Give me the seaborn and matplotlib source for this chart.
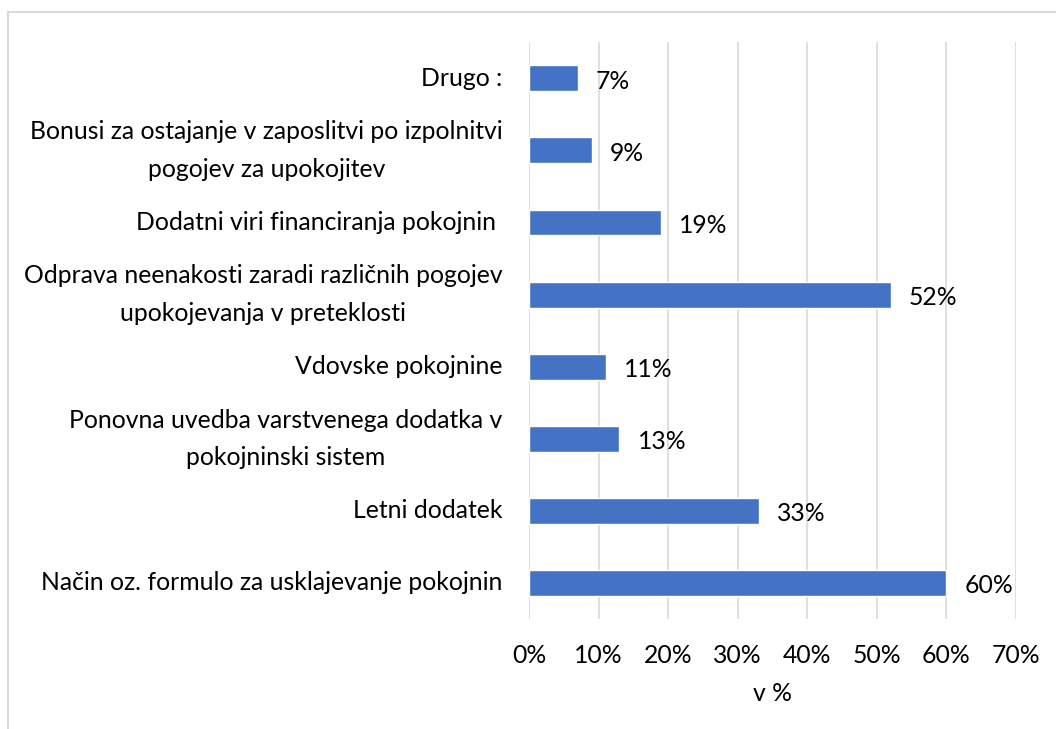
import matplotlib
matplotlib.use("Agg")
import matplotlib.pyplot as plt
import seaborn as sns
import pandas as pd
from matplotlib.ticker import PercentFormatter

# categories top to bottom, as they appear in the chart
categories = [
    "Drugo :",
    "Bonusi za ostajanje v zaposlitvi po izpolnitvi\npogojev za upokojitev",
    "Dodatni viri financiranja pokojnin ",
    "Odprava neenakosti zaradi različnih pogojev\nupokojevanja v preteklosti",
    "Vdovske pokojnine",
    "Ponovna uvedba varstvenega dodatka v\npokojninski sistem",
    "Letni dodatek",
    "Način oz. formulo za usklajevanje pokojnin",
]
shares = [0.07, 0.09, 0.19, 0.52, 0.11, 0.13, 0.33, 0.60]
x_ticks = [0, 0.1, 0.2, 0.3, 0.4, 0.5, 0.6, 0.7]

df = pd.DataFrame({"kategorija": categories, "delez": shares})

sns.set_style("white")
plt.rcParams["font.family"] = ["Lato", "DejaVu Sans"]
fs = 17.8

fig = plt.figure(figsize=(10.56, 7.29), dpi=100)
ax = fig.add_axes([0.501, 0.151, 0.461, 0.791])

sns.barplot(data=df, x="delez", y="kategorija", orient="h", color="#4472C4",
            saturation=1, width=0.36, ax=ax)

ax.set_xlim(0, 0.7)
ax.set_xticks(x_ticks)
ax.xaxis.set_major_formatter(PercentFormatter(1.0, decimals=0))
ax.grid(axis="x", color="#d9d9d9", linewidth=1.2)
ax.set_axisbelow(True)
for s in ax.spines.values():
    s.set_visible(False)
ax.tick_params(axis="both", length=0, labelsize=fs, colors="black")
ax.tick_params(axis="x", pad=18)
ax.tick_params(axis="y", pad=19)
for lbl in ax.get_yticklabels():
    lbl.set_multialignment("center")
    lbl.set_linespacing(1.75)
    lbl.set_verticalalignment("center")
ax.set_ylabel("")
ax.set_xlabel("v %", fontsize=fs, color="black", labelpad=11)

for i, v in enumerate(shares):
    ax.annotate(f"{round(v * 100)}%", xy=(v, i), xytext=(13, -2),
                textcoords="offset points", ha="left", va="center",
                fontsize=fs, color="black")

# outer chart border (left and top edges visible)
fig.add_artist(plt.Line2D([0.008, 0.008], [0, 0.983], color="#d9d9d9", lw=1.5,
                          transform=fig.transFigure))
fig.add_artist(plt.Line2D([0.008, 1.0], [0.983, 0.983], color="#d9d9d9", lw=1.5,
                          transform=fig.transFigure))

fig.savefig("out.png", dpi=100)
